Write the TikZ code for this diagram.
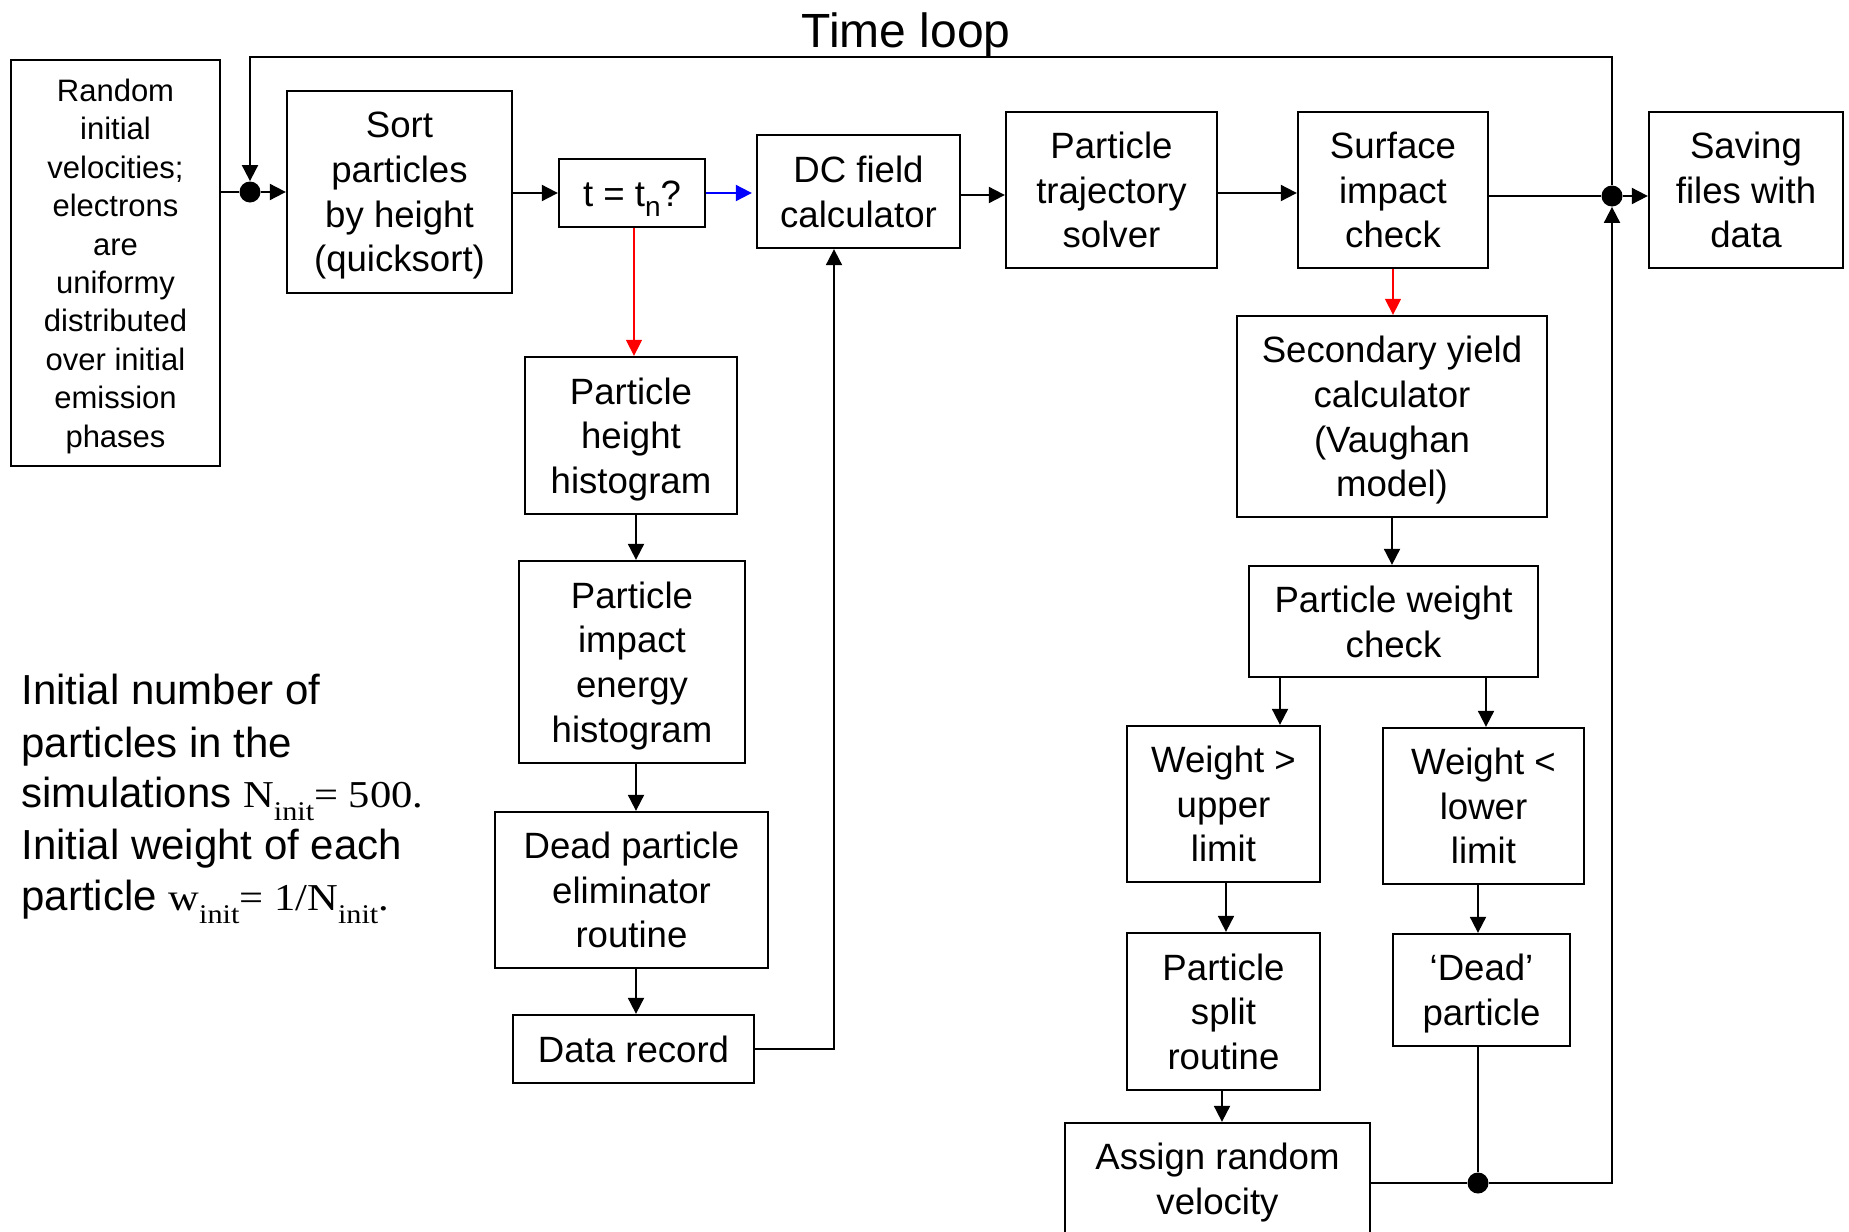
\documentclass[tikz,border=0pt]{standalone}
\usepackage{graphicx}
\usepackage{fontspec}
\setmainfont{Liberation Sans}
\newfontfamily\seriffont{Liberation Serif}
\usetikzlibrary{arrows.meta}
\newcommand\srf[1]{\scalebox{1.12}[1]{\seriffont\fontsize{19}{22}\selectfont #1}}
\newcommand\srsub[1]{\raisebox{-6.5pt}{\scalebox{1.12}[1]{\seriffont\fontsize{13.5}{15}\selectfont #1}}}
\begin{document}
\begin{tikzpicture}[x=0.5pt,y=-0.5pt,
  box/.style={draw, line width=1.15pt, inner sep=0pt, align=center,
    font=\fontsize{18.3}{22.35}\selectfont, text depth=0pt,
    execute at begin node={\rule{0pt}{0.73em}}},
  conn/.style={line width=0.95pt, -{Triangle[length=8pt,width=8pt]}},
  plain/.style={line width=0.95pt},
  jdot/.style={circle, fill, inner sep=0pt, minimum size=10.5pt},
  note/.style={anchor=base west, inner sep=0pt, font=\fontsize{21}{25.6}\selectfont}
]
\useasboundingbox (0,0) rectangle (1849,1232);
\fill[white] (0,0) rectangle (1849,1232);
\clip (0,0) rectangle (1849,1232);

% title
\node[font=\fontsize{24}{28}\selectfont, anchor=base, inner sep=0pt] (title) at (906,47) {Time loop};

% boxes
\node[box, minimum width=104.5pt, minimum height=203pt, font=\fontsize{15.5}{19.2}\selectfont] (init) at (115.5,263)
  {Random\\initial\\velocities;\\electrons\\are\\uniformy\\distributed\\over initial\\emission\\phases};
\node[box, minimum width=112.5pt, minimum height=101pt] (sort) at (399.5,192) {Sort\\particles\\by height\\(quicksort)};
\node[box, minimum width=73pt, minimum height=34pt] (tq) at (632,193)
  {t = t\raisebox{-5pt}{\fontsize{14}{14}\selectfont n}?};
\node[box, minimum width=101.5pt, minimum height=56.5pt] (dc) at (858.5,191.5) {DC field\\calculator};
\node[box, minimum width=105.5pt, minimum height=78pt] (traj) at (1111.5,190) {Particle\\trajectory\\solver};
\node[box, minimum width=95pt, minimum height=78pt] (surf) at (1393,190) {Surface\\impact\\check};
\node[box, minimum width=97pt, minimum height=78pt] (save) at (1746,190) {Saving\\files with\\data};
\node[box, minimum width=106pt, minimum height=78.5pt] (phh) at (631,435.5) {Particle\\height\\histogram};
\node[box, minimum width=113pt, minimum height=101pt] (pie) at (632,662) {Particle\\impact\\energy\\histogram};
\node[box, minimum width=136.5pt, minimum height=78pt] (dpe) at (631.5,890) {Dead particle\\eliminator\\routine};
\node[box, minimum width=120.5pt, minimum height=34pt] (drec) at (633.5,1049) {Data record};
\node[box, minimum width=155pt, minimum height=100.5pt] (sec) at (1392,416.5) {Secondary yield\\calculator\\(Vaughan\\model)};
\node[box, minimum width=144.5pt, minimum height=55.5pt] (pwc) at (1393.5,621.5) {Particle weight\\check};
\node[box, minimum width=96.5pt, minimum height=78pt] (wgt) at (1223.5,804) {Weight >\\upper\\limit};
\node[box, minimum width=100.5pt, minimum height=78pt] (wlt) at (1483.5,806) {Weight <\\lower\\limit};
\node[box, minimum width=96.5pt, minimum height=78.5pt] (split) at (1223.5,1011.5) {Particle\\split\\routine};
\node[box, minimum width=88.5pt, minimum height=56pt] (dead) at (1481.5,990) {‘Dead’\\particle};
\node[box, minimum width=152.5pt, minimum height=56pt] (assign) at (1217.5,1179) {Assign random\\velocity};

% note text
\node[note] (n1) at (21,704) {Initial number of};
\node[note] (n2) at (21,757) {particles in the};
\node[note] (n3) at (21,807) {simulations \srf{N}\srsub{init}\srf{= 500.}};
\node[note] (n4) at (21,859) {Initial weight of each};
\node[note] (n5) at (21,910) {particle \srf{w}\srsub{init}\srf{= 1/N}\srsub{init}\srf{.}};

% junctions and bends
\node[jdot] (j1) at (250,192) {};
\node[jdot] (j2) at (1612,196) {};
\node[jdot] (j3) at (1478,1183) {};
\coordinate (tl) at (250,57);
\coordinate (tr) at (1612,57);
\coordinate (br) at (1612,1183);
\coordinate (dr) at (834,1049);
\coordinate (bx1) at (1280,0);
\coordinate (bx2) at (1486,0);
\coordinate (bx3) at (1478,0);
\coordinate (bx4) at (636,0);
\coordinate (bx5) at (1226,0);
\coordinate (bx6) at (1222,0);
\coordinate (bx7) at (634,0);

% connectors
\draw[plain] (init.east |- j1) -- (j1);
\draw[conn] (j1) -- (sort.west |- j1);
\draw[conn] (j2) -- (tr) -- (tl) -- (j1);
\draw[conn] (sort.east |- tq.west) -- (tq.west);
\draw[conn, blue, shorten >=2pt] (tq.east) -- (dc.west |- tq.east);
\draw[conn, red, line width=0.7pt] (tq.south -| bx7) -- (phh.north -| bx7);
\draw[conn] (dc.east |- 0,195) -- (traj.west |- 0,195);
\draw[conn] (traj.east |- 0,193) -- (surf.west |- 0,193);
\draw[plain] (surf.east |- j2) -- (j2);
\draw[conn] (j2) -- (save.west |- j2);
\draw[conn] (phh.south -| bx4) -- (pie.north -| bx4);
\draw[conn] (pie.south -| bx4) -- (dpe.north -| bx4);
\draw[conn] (dpe.south -| bx4) -- (drec.north -| bx4);
\draw[conn] (drec.east) -- (dr) -- (dr |- dc.south);
\draw[conn, red, line width=0.7pt] (surf.south) -- (surf.south |- sec.north);
\draw[conn] (sec.south) -- (sec.south |- pwc.north);
\draw[conn] (pwc.south -| bx1) -- (wgt.north -| bx1);
\draw[conn] (pwc.south -| bx2) -- (wlt.north -| bx2);
\draw[conn] (wgt.south -| bx5) -- (split.north -| bx5);
\draw[conn] (wlt.south -| bx3) -- (dead.north -| bx3);
\draw[conn] (split.south -| bx6) -- (assign.north -| bx6);
\draw[plain] (dead.south -| bx3) -- (j3);
\draw[plain] (assign.east |- j3) -- (j3);
\draw[conn] (j3) -- (br) -- (j2);
\end{tikzpicture}
\end{document}
